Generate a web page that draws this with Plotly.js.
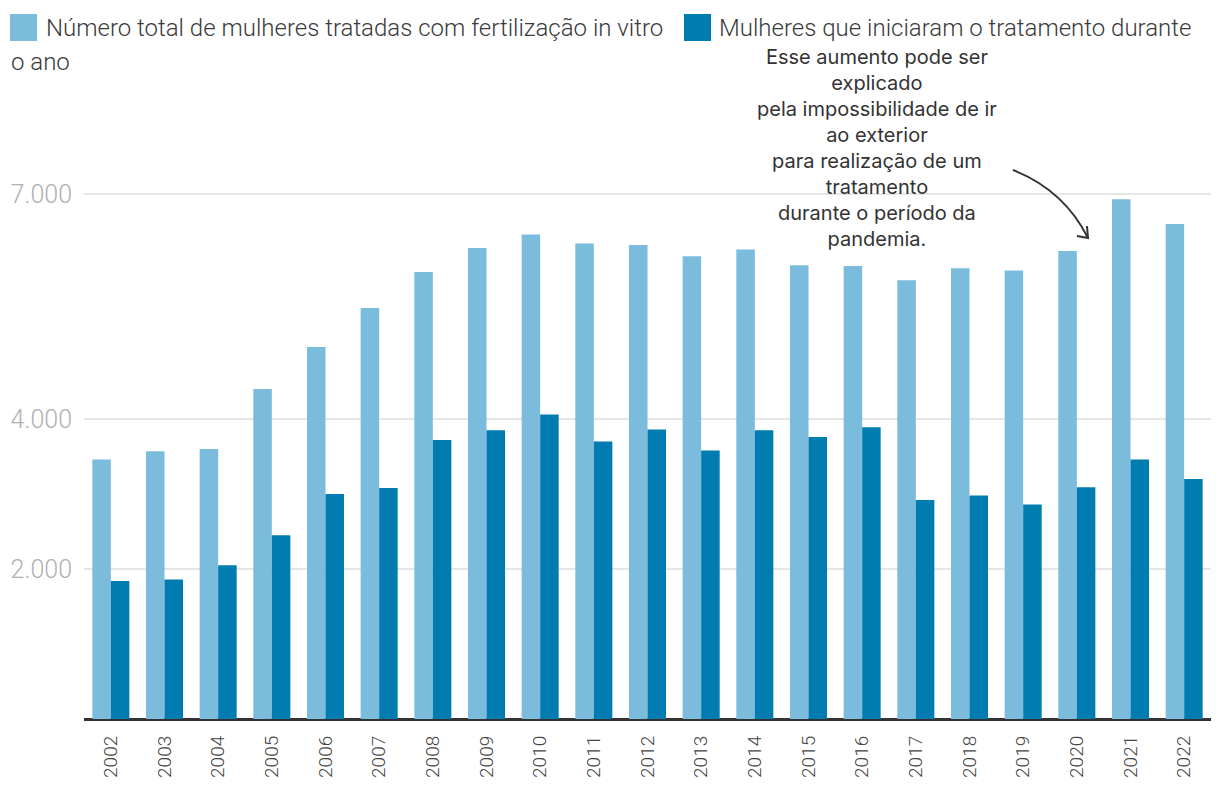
<!DOCTYPE html>
<html>
<head>
<meta charset="utf-8">
<script src="https://cdn.plot.ly/plotly-3.0.1.min.js"></script>
<style>html,body{margin:0;padding:0;background:#fff;}#chart{width:1220px;height:808px;}</style>
</head>
<body>
<div id="chart"></div>
<script>
const years = ['2002','2003','2004','2005','2006','2007','2008','2009','2010','2011','2012','2013','2014','2015','2016','2017','2018','2019','2020','2021','2022'];
const totalTreated = [3460,3570,3600,4400,4960,5480,5960,6280,6460,6340,6320,6170,6260,6050,6040,5850,6010,5980,6240,6930,6600];
const startedInYear = [1840,1860,2050,2450,3000,3080,3720,3850,4060,3700,3860,3580,3850,3760,3890,2920,2980,2860,3090,3460,3200];
const yTickVals = [2000,4000,7000];
const yTickText = ['2.000','4.000','7.000'];
const seriesNames = ['Número total de mulheres tratadas com fertilização in vitro','Mulheres que iniciaram o tratamento durante o ano'];
const noteText = 'Esse aumento pode ser<br>explicado<br>pela impossibilidade de ir<br>ao exterior<br>para realização de um<br>tratamento<br>durante o período da<br>pandemia.';

const LIGHT = '#7bbcdd', DARK = '#007cb0';
const L = 84, R = 1211, T = 119, B = 719;
const W = R - L, H = B - T;
const px = x => (x - L) / W;
const py = y => (B - y) / H;

const traces = [
  {type:'bar', x: years, y: totalTreated, name: seriesNames[0], marker:{color: LIGHT}, showlegend:false, hoverinfo:'x+y'},
  {type:'bar', x: years, y: startedInYear, name: seriesNames[1], marker:{color: DARK}, showlegend:false, hoverinfo:'x+y'}
];

const legFont = {family:'Roboto, sans-serif', size:24, color:'#3a3a3a', weight:300};
const arrowPath = 'M' + px(1013) + ',' + py(170) + ' Q' + px(1064) + ',' + py(190) + ' ' + px(1088) + ',' + py(238);
const headPath = 'M' + px(1077) + ',' + py(236) + ' L' + px(1088) + ',' + py(238) + ' L' + px(1087) + ',' + py(226);

const layout = {
  width: 1220, height: 808,
  margin: {l: L, r: 1220 - R, t: T, b: 808 - B},
  paper_bgcolor: '#fff', plot_bgcolor: '#fff',
  barmode: 'group', bargap: 0.31, bargroupgap: 0,
  xaxis: {type:'category', range:[-0.5, 20.5], tickangle:-90, showgrid:false, ticks:'', showline:false, zeroline:false,
          tickfont:{family:'Roboto, sans-serif', size:19, color:'#444', weight:300}, ticklabelstandoff: 12, fixedrange:true},
  yaxis: {range:[0, 8000], tickvals: yTickVals, ticktext: yTickText, showgrid:true, gridcolor:'#e6e6e6', gridwidth:2,
          zeroline:true, zerolinecolor:'#333', zerolinewidth:3, ticks:'', showline:false,
          tickfont:{family:'Roboto, sans-serif', size:25, color:'#b0b0b0', weight:300}, ticklabelstandoff: 11, fixedrange:true},
  shapes: [
    {type:'rect', xref:'paper', yref:'paper', x0:px(10), x1:px(37), y0:py(41), y1:py(14), fillcolor:LIGHT, line:{width:0}},
    {type:'rect', xref:'paper', yref:'paper', x0:px(684), x1:px(711), y0:py(41), y1:py(14), fillcolor:DARK, line:{width:0}},
    {type:'path', xref:'paper', yref:'paper', path: arrowPath, line:{color:'#333', width:2}},
    {type:'path', xref:'paper', yref:'paper', path: headPath, line:{color:'#333', width:2}}
  ],
  annotations: [
    {xref:'paper', yref:'paper', x:px(44), y:py(28), xanchor:'left', yanchor:'middle', showarrow:false,
     text: 'Número total de mulheres tratadas com fertilização in vitro', font: legFont},
    {xref:'paper', yref:'paper', x:px(717), y:py(28), xanchor:'left', yanchor:'middle', showarrow:false,
     text: 'Mulheres que iniciaram o tratamento durante', font: legFont},
    {xref:'paper', yref:'paper', x:px(9), y:py(62), xanchor:'left', yanchor:'middle', showarrow:false,
     text: 'o ano', font: legFont},
    {xref:'paper', yref:'paper', x:px(877), y:py(148), xanchor:'center', yanchor:'middle', showarrow:false, align:'center',
     text: noteText, font:{family:'Inter, sans-serif', size:20, color:'#333', weight:400}}
  ]
};

Plotly.newPlot('chart', traces, layout, {displayModeBar:false, staticPlot:true});
</script>
</body>
</html>
